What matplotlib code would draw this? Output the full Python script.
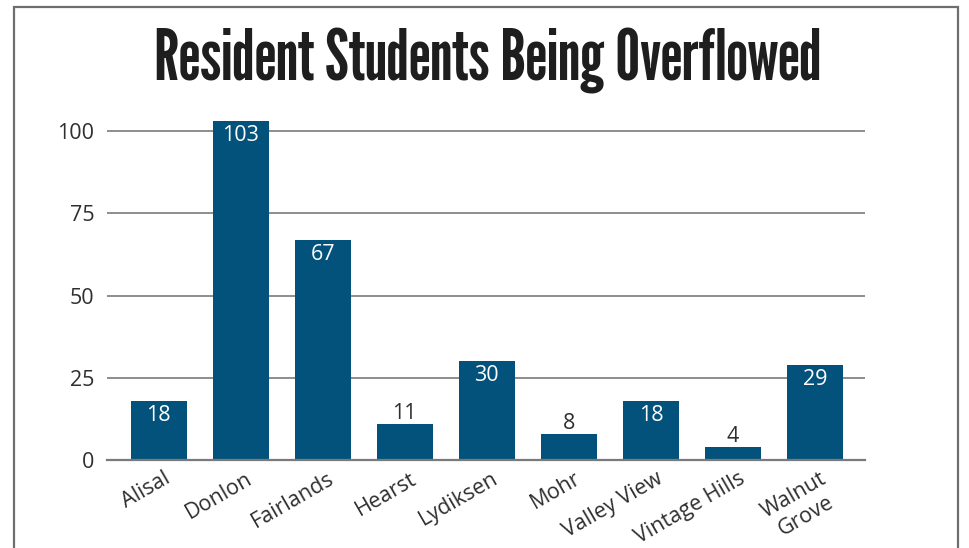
import matplotlib
matplotlib.use("Agg")
import matplotlib.pyplot as plt
from matplotlib.patches import Rectangle
import matplotlib.transforms as mtransforms
import numpy as np

schools = ["Alisal", "Donlon", "Fairlands", "Hearst", "Lydiksen", "Mohr",
           "Valley View", "Vintage Hills", "Walnut\nGrove"]
students = [18, 103, 67, 11, 30, 8, 18, 4, 29]
yticks = [0, 25, 50, 75, 100]
title = "Resident Students Being Overflowed"

W, H = 970, 548
fig = plt.figure(figsize=(W / 100, H / 100), dpi=100)

label_font = ["Open Sans", "DejaVu Sans"]
bar_color = "#02527B"
text_color = "#2f2f2f"
grid_color = "#7a7a7a"
fs = 15.5

ax_left, ax_right = 107, 865
ax_bottom = 460
ymax = 110
px_per_unit = (460 - 131) / 100
ax_top = ax_bottom - ymax * px_per_unit
ax = fig.add_axes([ax_left / W, 1 - ax_bottom / H,
                   (ax_right - ax_left) / W, (ax_bottom - ax_top) / H])

x = np.arange(len(schools))
ax.bar(x, students, width=0.68, color=bar_color, zorder=3)
ax.set_xlim(-0.63, len(schools) - 1 + 0.61)
ax.set_ylim(0, ymax)

for s in ["top", "right", "left"]:
    ax.spines[s].set_visible(False)
ax.spines["bottom"].set_color(grid_color)
ax.spines["bottom"].set_linewidth(1.6)
ax.spines["bottom"].set_zorder(4)

ax.set_yticks(yticks)
ax.set_yticklabels([str(v) for v in yticks], fontsize=fs, color=text_color,
                   family=label_font)
ax.tick_params(axis="y", length=0, pad=9)
for v in yticks[1:]:
    ax.axhline(v, color=grid_color, lw=1.2, zorder=1)

ax.set_xticks(x)
ax.set_xticklabels(schools, rotation=30, ha="right", va="top",
                   rotation_mode="anchor", fontsize=fs, color=text_color,
                   family=label_font, multialignment="center")
ax.tick_params(axis="x", length=0, pad=6)
offset = mtransforms.ScaledTranslation(5 / 100, 0, fig.dpi_scale_trans)
for lab in ax.get_xticklabels():
    lab.set_transform(lab.get_transform() + offset)

for xi, v in zip(x, students):
    if v >= 15:
        ax.annotate(str(v), (xi, v), xytext=(0, -3), textcoords="offset points",
                    ha="center", va="top", color="white", fontsize=fs,
                    family=label_font, zorder=5)
    else:
        ax.annotate(str(v), (xi, v), xytext=(0, 0), textcoords="offset points",
                    ha="center", va="bottom", color=text_color, fontsize=fs,
                    family=label_font, zorder=5)

# title, fitted to the reference width
t = fig.text(488 / W, 1 - 80 / H, title, ha="center", va="baseline",
             fontsize=40, fontweight="bold", color="#1e1e1e",
             family=["League Gothic", "Oswald", "DejaVu Sans"])
fig.canvas.draw()
bb = t.get_window_extent()
t.set_fontsize(40 * 667 / bb.width)

# frame around the graphic
fig.add_artist(Rectangle((14 / W, -0.05), (958 - 14) / W, 1 - 7 / H + 0.05,
                         transform=fig.transFigure, fill=False,
                         edgecolor="#6e6e6e", lw=1.6, clip_on=False))

fig.savefig("out.png", dpi=100)
